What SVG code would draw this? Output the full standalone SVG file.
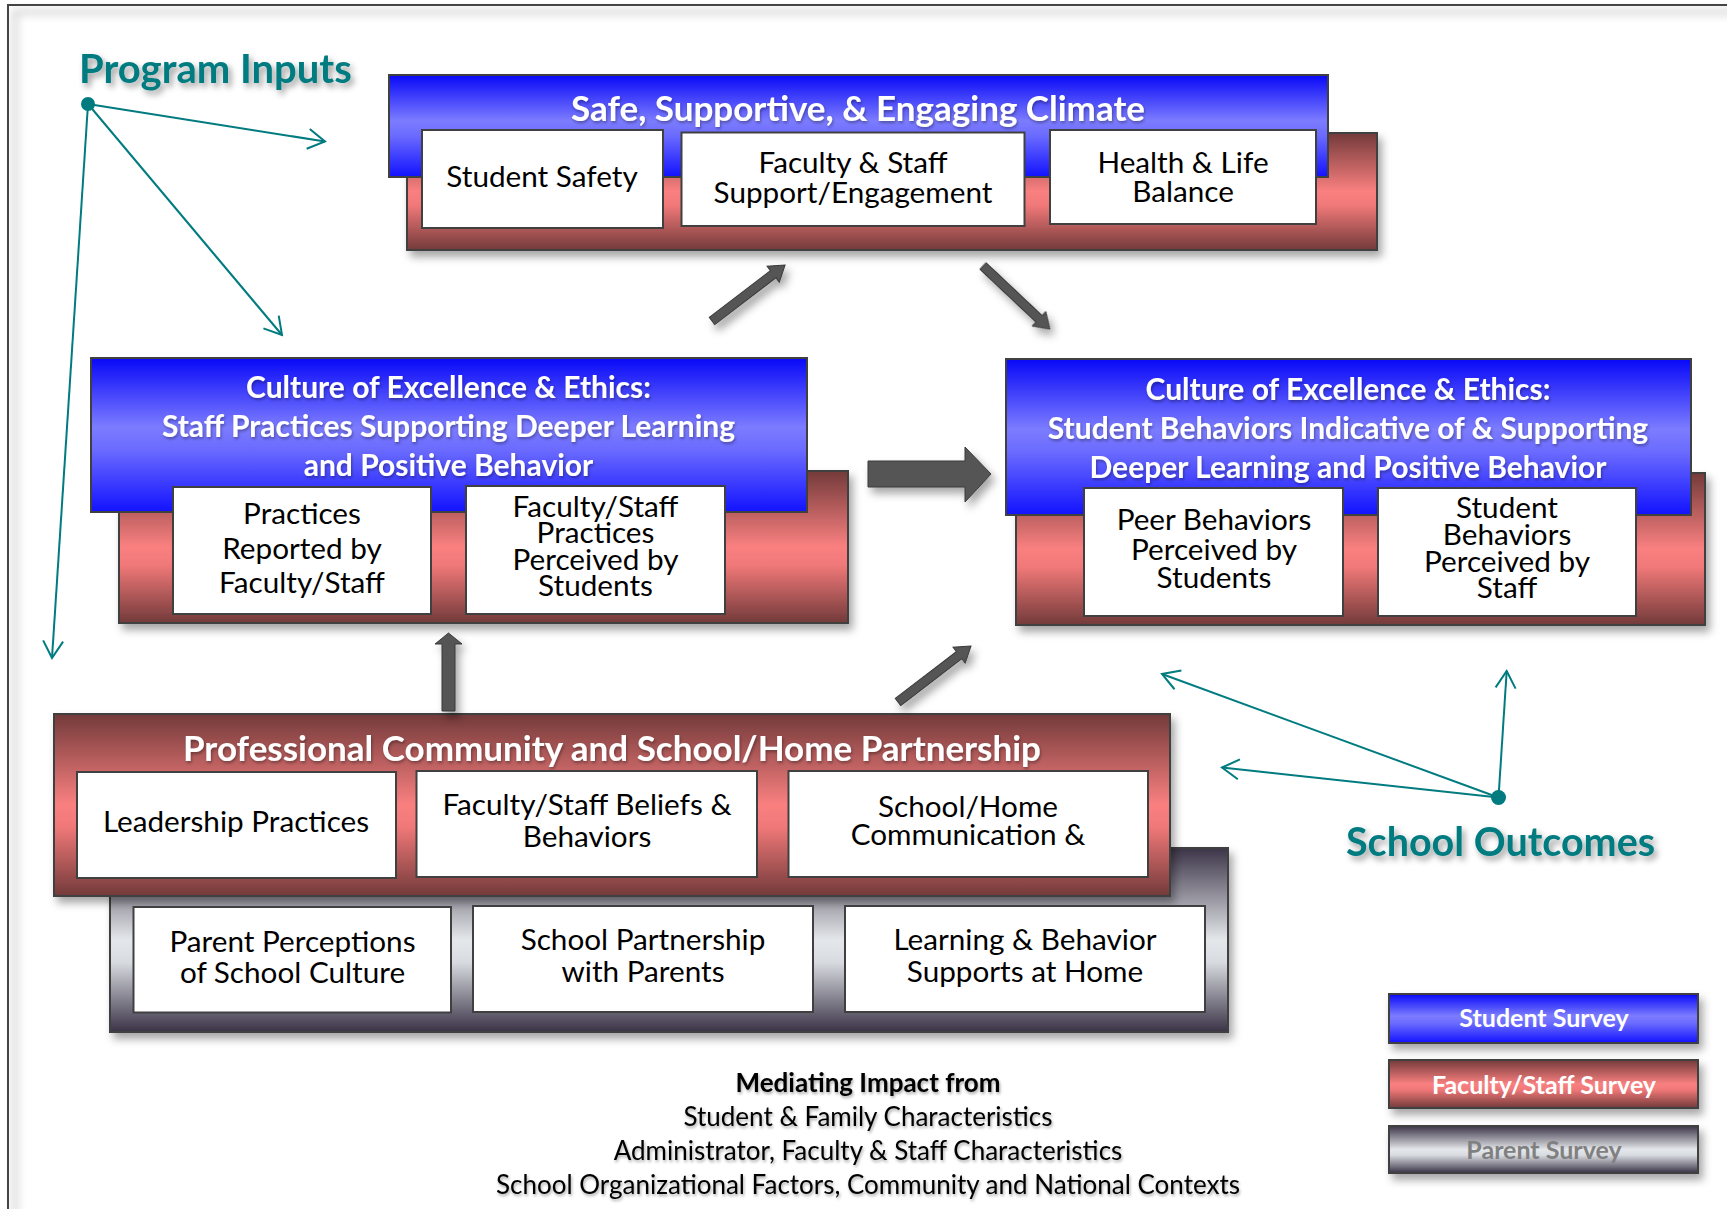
<svg xmlns="http://www.w3.org/2000/svg" width="1727" height="1209" viewBox="0 0 1727 1209">
<defs>
<style>
.hdr{font-family:Lato,"Liberation Sans",sans-serif;font-weight:700;fill:#ffffff;text-anchor:middle;font-size:30px}
.hdr.lg{font-size:35px}
.body{font-family:Lato,"Liberation Sans",sans-serif;fill:#000;text-anchor:middle;font-size:29.7px}
.box{fill:#ffffff;stroke:#404040;stroke-width:2}
.frame{stroke:#454545;stroke-width:2}
.conn{stroke:#007b80;stroke-width:2;fill:none}
.blk{fill:#555555;stroke:#3a3a3a;stroke-width:1}
.big{font-family:Lato,"Liberation Sans",sans-serif;font-weight:700;fill:#007b80}
.leg{font-family:Lato,"Liberation Sans",sans-serif;font-weight:700;text-anchor:middle;font-size:25px}
.med{font-family:Lato,"Liberation Sans",sans-serif;fill:#000;text-anchor:middle;font-size:26px}
</style>
<linearGradient id="gBlue" x1="0" y1="0" x2="0" y2="1">
<stop offset="0" stop-color="#0808f8"/>
<stop offset="0.45" stop-color="#7c7cff"/>
<stop offset="0.6" stop-color="#6a6aff"/>
<stop offset="1" stop-color="#1212ff"/>
</linearGradient>
<linearGradient id="gRed" x1="0" y1="0" x2="0" y2="1">
<stop offset="0" stop-color="#733a3a"/>
<stop offset="0.5" stop-color="#fa8080"/>
<stop offset="0.62" stop-color="#f07878"/>
<stop offset="1" stop-color="#733a3a"/>
</linearGradient>
<linearGradient id="gGray" x1="0" y1="0" x2="0" y2="1">
<stop offset="0" stop-color="#3c3448"/>
<stop offset="0.5" stop-color="#e4e7ea"/>
<stop offset="0.62" stop-color="#d8dbe0"/>
<stop offset="1" stop-color="#3a3346"/>
</linearGradient>
<filter id="sh" x="-10%" y="-10%" width="130%" height="140%">
<feDropShadow dx="4" dy="6" stdDeviation="4" flood-color="#000" flood-opacity="0.35"/>
</filter>
<filter id="tsh" x="-10%" y="-30%" width="130%" height="180%">
<feDropShadow dx="3" dy="4" stdDeviation="3" flood-color="#000" flood-opacity="0.4"/>
</filter>
<filter id="wsh" x="-5%" y="-30%" width="110%" height="180%">
<feDropShadow dx="1" dy="2" stdDeviation="1.5" flood-color="#000" flood-opacity="0.35"/>
</filter>
<filter id="soft" x="-5%" y="-5%" width="110%" height="110%">
<feGaussianBlur stdDeviation="4"/>
</filter>
<marker id="open" viewBox="-20 -12 22 24" markerWidth="22" markerHeight="24" refX="0" refY="0" orient="auto" markerUnits="userSpaceOnUse">
<path d="M-17,-10 L0,0 L-17,10" fill="none" stroke="#007b80" stroke-width="2"/>
</marker>
<path id="diag" d="M0,-4.5 L77,-4.5 L77,-10 L92,0 L77,10 L77,4.5 L0,4.5 Z"/>
</defs>

<rect width="1727" height="1209" fill="#ffffff"/>
<path d="M15,1215 L15,12 L1740,12" fill="none" stroke="#d8d8d8" stroke-width="6" filter="url(#soft)"/>
<rect class="frame" x="8" y="5" width="1740" height="1230" fill="none"/>

<g id="program-inputs-label">
<text class="big" x="79" y="83" font-size="40" filter="url(#tsh)">Program Inputs</text>
</g>
<g id="school-outcomes-label">
<text class="big" x="1346" y="856" font-size="39.5" filter="url(#tsh)">School Outcomes</text>
</g>

<g id="climate">
<rect x="407" y="133" width="970" height="117" fill="url(#gRed)" stroke="#404040" stroke-width="2" filter="url(#sh)"/>
<rect x="389" y="75" width="939" height="102" fill="url(#gBlue)" stroke="#404040" stroke-width="2"/>
<text class="hdr lg" x="858" y="121" filter="url(#wsh)">Safe, Supportive, &amp; Engaging Climate</text>
<rect class="box" x="422" y="130" width="241" height="98"/>
<text class="body" x="542" y="187">Student Safety</text>
<rect class="box" x="681.5" y="132.5" width="343" height="93.5"/>
<text class="body" x="853" y="173">Faculty &amp; Staff</text>
<text class="body" x="853" y="203">Support/Engagement</text>
<rect class="box" x="1050" y="130" width="266" height="94"/>
<text class="body" x="1183" y="173">Health &amp; Life</text>
<text class="body" x="1183" y="202">Balance</text>
</g>

<g id="staff-practices">
<rect x="119" y="471" width="729" height="152" fill="url(#gRed)" stroke="#404040" stroke-width="2" filter="url(#sh)"/>
<rect x="91" y="358" width="716" height="154" fill="url(#gBlue)" stroke="#404040" stroke-width="2"/>
<text class="hdr" x="448.5" y="398" filter="url(#wsh)">Culture of Excellence &amp; Ethics:</text>
<text class="hdr" x="448.5" y="437" filter="url(#wsh)">Staff Practices Supporting Deeper Learning</text>
<text class="hdr" x="448.5" y="476" filter="url(#wsh)">and Positive Behavior</text>
<rect class="box" x="173" y="487" width="258" height="127"/>
<text class="body" x="302" y="524">Practices</text>
<text class="body" x="302" y="559">Reported by</text>
<text class="body" x="302" y="593">Faculty/Staff</text>
<rect class="box" x="466" y="486" width="259" height="128"/>
<text class="body" x="595.5" y="517">Faculty/Staff</text>
<text class="body" x="595.5" y="543">Practices</text>
<text class="body" x="595.5" y="570">Perceived by</text>
<text class="body" x="595.5" y="596">Students</text>
</g>

<g id="student-behaviors">
<rect x="1016" y="473" width="689" height="152" fill="url(#gRed)" stroke="#404040" stroke-width="2" filter="url(#sh)"/>
<rect x="1006" y="359" width="685" height="156" fill="url(#gBlue)" stroke="#404040" stroke-width="2"/>
<text class="hdr" x="1348" y="400" filter="url(#wsh)">Culture of Excellence &amp; Ethics:</text>
<text class="hdr" x="1348" y="439" filter="url(#wsh)">Student Behaviors Indicative of &amp; Supporting</text>
<text class="hdr" x="1348" y="478" filter="url(#wsh)">Deeper Learning and Positive Behavior</text>
<rect class="box" x="1084" y="488" width="259" height="128"/>
<text class="body" x="1214" y="530">Peer Behaviors</text>
<text class="body" x="1214" y="560">Perceived by</text>
<text class="body" x="1214" y="588">Students</text>
<rect class="box" x="1378" y="488" width="258" height="128"/>
<text class="body" x="1507" y="518">Student</text>
<text class="body" x="1507" y="545">Behaviors</text>
<text class="body" x="1507" y="572">Perceived by</text>
<text class="body" x="1507" y="598">Staff</text>
</g>

<g id="community-partnership">
<rect x="110" y="848" width="1118" height="184" fill="url(#gGray)" stroke="#404040" stroke-width="2" filter="url(#sh)"/>
<rect x="54" y="714" width="1116" height="182" fill="url(#gRed)" stroke="#404040" stroke-width="2" filter="url(#sh)"/>
<text class="hdr lg" x="612" y="761" filter="url(#wsh)">Professional Community and School/Home Partnership</text>
<rect class="box" x="77" y="772" width="319" height="106"/>
<text class="body" x="236" y="832">Leadership Practices</text>
<rect class="box" x="416.5" y="771" width="340.5" height="106"/>
<text class="body" x="587" y="815">Faculty/Staff Beliefs &amp;</text>
<text class="body" x="587" y="847">Behaviors</text>
<rect class="box" x="788.5" y="771" width="359.5" height="106"/>
<text class="body" x="968" y="817">School/Home</text>
<text class="body" x="968" y="845">Communication &amp;</text>
<rect class="box" x="133.5" y="907" width="317.5" height="105.5"/>
<text class="body" x="292.5" y="952">Parent Perceptions</text>
<text class="body" x="292.5" y="983">of School Culture</text>
<rect class="box" x="473" y="906" width="340" height="106"/>
<text class="body" x="643" y="950">School Partnership</text>
<text class="body" x="643" y="982">with Parents</text>
<rect class="box" x="845" y="906" width="360" height="106"/>
<text class="body" x="1025" y="950">Learning &amp; Behavior</text>
<text class="body" x="1025" y="982">Supports at Home</text>
</g>

<g id="mediating">
<text class="med" x="868" y="1092" font-weight="700" filter="url(#wsh)">Mediating Impact from</text>
<text class="med" x="868" y="1126" filter="url(#wsh)">Student &amp; Family Characteristics</text>
<text class="med" x="868" y="1160" filter="url(#wsh)">Administrator, Faculty &amp; Staff Characteristics</text>
<text class="med" x="868" y="1194" filter="url(#wsh)">School Organizational Factors, Community and National Contexts</text>
</g>

<g id="legend">
<g id="legend-student">
<rect x="1389" y="994" width="309" height="49" fill="url(#gBlue)" stroke="#404040" stroke-width="2" filter="url(#sh)"/>
<text class="leg" x="1544" y="1027" fill="#ffffff">Student Survey</text>
</g>
<g id="legend-staff">
<rect x="1389" y="1060" width="309" height="48" fill="url(#gRed)" stroke="#404040" stroke-width="2" filter="url(#sh)"/>
<text class="leg" x="1544" y="1094" fill="#ffffff">Faculty/Staff Survey</text>
</g>
<g id="legend-parent">
<rect x="1389" y="1126" width="309" height="47" fill="url(#gGray)" stroke="#404040" stroke-width="2" filter="url(#sh)"/>
<text class="leg" x="1544" y="1159" fill="#808080">Parent Survey</text>
</g>
</g>

<g id="connectors">
<g filter="url(#sh)">
<use href="#diag" class="blk" transform="translate(712,321) rotate(-37.4)"/>
<use href="#diag" class="blk" transform="translate(983,266) rotate(43.3)"/>
<use href="#diag" class="blk" transform="translate(898,702) rotate(-37.5)"/>
<path class="blk" d="M868,461 L965,461 L965,447 L991,474 L965,502 L965,487 L868,487 Z"/>
<path class="blk" d="M442,711 L442,644 L435,644 L448.5,633 L462,644 L455,644 L455,711 Z"/>
</g>
<line class="conn" x1="88" y1="104" x2="325" y2="141.5" marker-end="url(#open)"/>
<line class="conn" x1="88" y1="104" x2="282" y2="335" marker-end="url(#open)"/>
<line class="conn" x1="88" y1="104" x2="52" y2="658" marker-end="url(#open)"/>
<circle cx="88" cy="104" r="7" fill="#007b80"/>
<line class="conn" x1="1498.5" y1="797.5" x2="1162" y2="674" marker-end="url(#open)"/>
<line class="conn" x1="1498.5" y1="797.5" x2="1222" y2="767.5" marker-end="url(#open)"/>
<line class="conn" x1="1498.5" y1="797.5" x2="1506.7" y2="671" marker-end="url(#open)"/>
<circle cx="1498.5" cy="797.5" r="7.5" fill="#007b80"/>
</g>
</svg>
